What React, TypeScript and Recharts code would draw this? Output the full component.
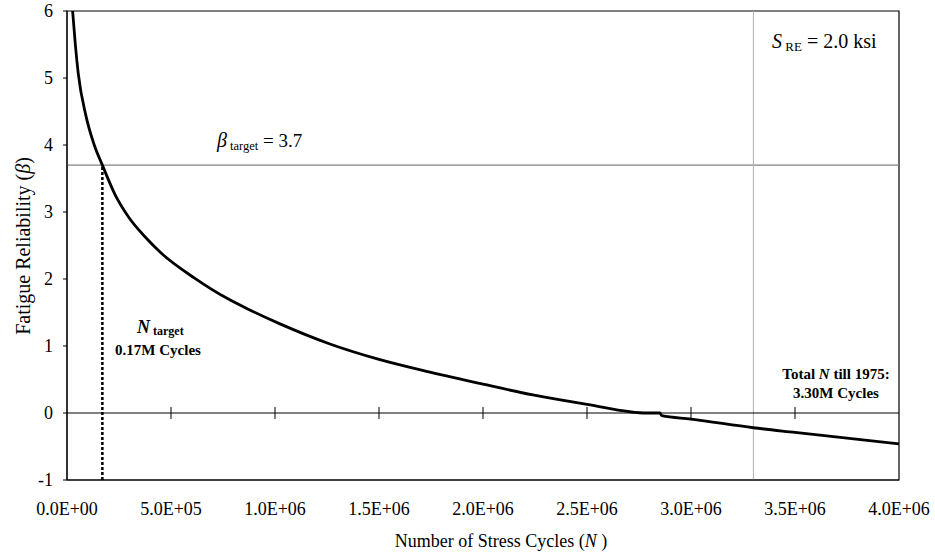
import {
  LineChart,
  Line,
  XAxis,
  YAxis,
  ReferenceLine,
  ReferenceArea,
  Customized,
} from "recharts";

// 応力繰り返し数 N と疲労信頼性指標 β
const cycles = [
  27000, 40000, 54000, 90000, 131000, 170000, 231000, 295000, 375000, 455000,
  615000, 776000, 864000, 1024000, 1264000, 1500000, 1745000, 2000000, 2240000,
  2500000, 2790000, 2850000, 2860000, 3000000, 3300000, 3500000, 4000000,
];
const beta = [
  6.0, 5.5, 5.07, 4.45, 4.0, 3.7, 3.26, 2.93, 2.63, 2.38, 2.01, 1.7, 1.56, 1.33,
  1.03, 0.8, 0.61, 0.43, 0.27, 0.13, 0.0, 0.0, -0.04, -0.09, -0.22, -0.29, -0.46,
];

const xTicks = [0, 500000, 1000000, 1500000, 2000000, 2500000, 3000000, 3500000, 4000000];
const yTicks = [-1, 0, 1, 2, 3, 4, 5, 6];
const zeroLineTicks = [500000, 1000000, 1500000, 2000000, 2500000, 3000000, 3500000];

const betaTarget = 3.7;
const nTarget = 170000;
const nTotal = 3300000;

const data = cycles.map((n, i) => ({ n, beta: beta[i] }));

const FONT = "'Liberation Serif', 'Times New Roman', serif";

// 0.0E+00 形式
const sci = (v: number) => {
  const [m, e] = v.toExponential(1).split("e");
  return `${m}E${e[0]}${e.slice(1).padStart(2, "0")}`;
};

const Annotations = () => (
  <g fontFamily={FONT} fill="#000">
    {/* y軸タイトル */}
    <text
      transform="translate(30,246) rotate(-90)"
      textAnchor="middle"
      fontSize={20}
    >
      Fatigue Reliability (<tspan fontStyle="italic">β</tspan>)
    </text>
    {/* x軸タイトル */}
    <text x={501} y={547} textAnchor="middle" fontSize={18}>
      Number of Stress Cycles (<tspan fontStyle="italic">N</tspan> )
    </text>
    <text x={217} y={147} fontSize={19}>
      <tspan fontStyle="italic" fontSize={20}>β</tspan>
      <tspan fontSize={12.5} dy={3}> target</tspan>
      <tspan dy={-3}> = 3.7</tspan>
    </text>
    <text x={772} y={48} fontSize={20}>
      <tspan fontStyle="italic">S</tspan>
      <tspan fontSize={13} dy={3}> RE</tspan>
      <tspan dy={-3}> = 2.0 ksi</tspan>
    </text>
    <text x={137} y={333} fontSize={18} fontWeight="bold">
      <tspan fontStyle="italic">N</tspan>
      <tspan fontSize={12} dy={2}> target</tspan>
    </text>
    <text x={158} y={355} textAnchor="middle" fontSize={15} fontWeight="bold">
      0.17M Cycles
    </text>
    <text x={836} y={379} textAnchor="middle" fontSize={15} fontWeight="bold">
      Total <tspan fontStyle="italic">N</tspan> till 1975:
    </text>
    <text x={836} y={398} textAnchor="middle" fontSize={15} fontWeight="bold">
      3.30M Cycles
    </text>
  </g>
);

export default function App() {
  const tickStyle = { fill: "#000", fontSize: 18, fontFamily: FONT };
  return (
    <div style={{ position: "absolute", left: 0, top: 0, background: "#fff" }}>
      <LineChart
        width={935}
        height={558}
        data={data}
        margin={{ top: 11, right: 36, bottom: 48, left: 0 }}
      >
        <XAxis
          dataKey="n"
          type="number"
          domain={[0, 4000000]}
          ticks={xTicks}
          interval={0}
          tickFormatter={sci}
          tick={tickStyle}
          tickLine={false}
          tickSize={6}
          tickMargin={16}
          height={30}
          axisLine={{ stroke: "#000" }}
        />
        <YAxis
          type="number"
          domain={[-1, 6]}
          ticks={yTicks}
          interval={0}
          tick={tickStyle}
          tickLine={{ stroke: "#000" }}
          tickSize={4}
          tickMargin={10}
          width={67}
          axisLine={{ stroke: "#000" }}
        />
        <ReferenceArea
          x1={0}
          x2={4000000}
          y1={-1}
          y2={6}
          fill="none"
          stroke="#000"
          strokeWidth={1.2}
        />
        <ReferenceLine y={betaTarget} stroke="#808080" strokeWidth={1.2} />
        <ReferenceLine x={nTotal} stroke="#b0b0b0" strokeWidth={1} />
        <ReferenceLine y={0} stroke="#000" strokeWidth={1} />
        {zeroLineTicks.map((t) => (
          <ReferenceLine
            key={t}
            segment={[
              { x: t, y: -0.09 },
              { x: t, y: 0.09 },
            ]}
            stroke="#000"
            strokeWidth={1}
          />
        ))}
        <ReferenceLine
          segment={[
            { x: nTarget, y: -1 },
            { x: nTarget, y: betaTarget },
          ]}
          stroke="#000"
          strokeWidth={2.5}
          strokeDasharray="3 2"
        />
        <Line
          type="monotone"
          dataKey="beta"
          stroke="#000"
          strokeWidth={2.8}
          dot={false}
          isAnimationActive={false}
        />
        <Customized component={Annotations} />
      </LineChart>
    </div>
  );
}
